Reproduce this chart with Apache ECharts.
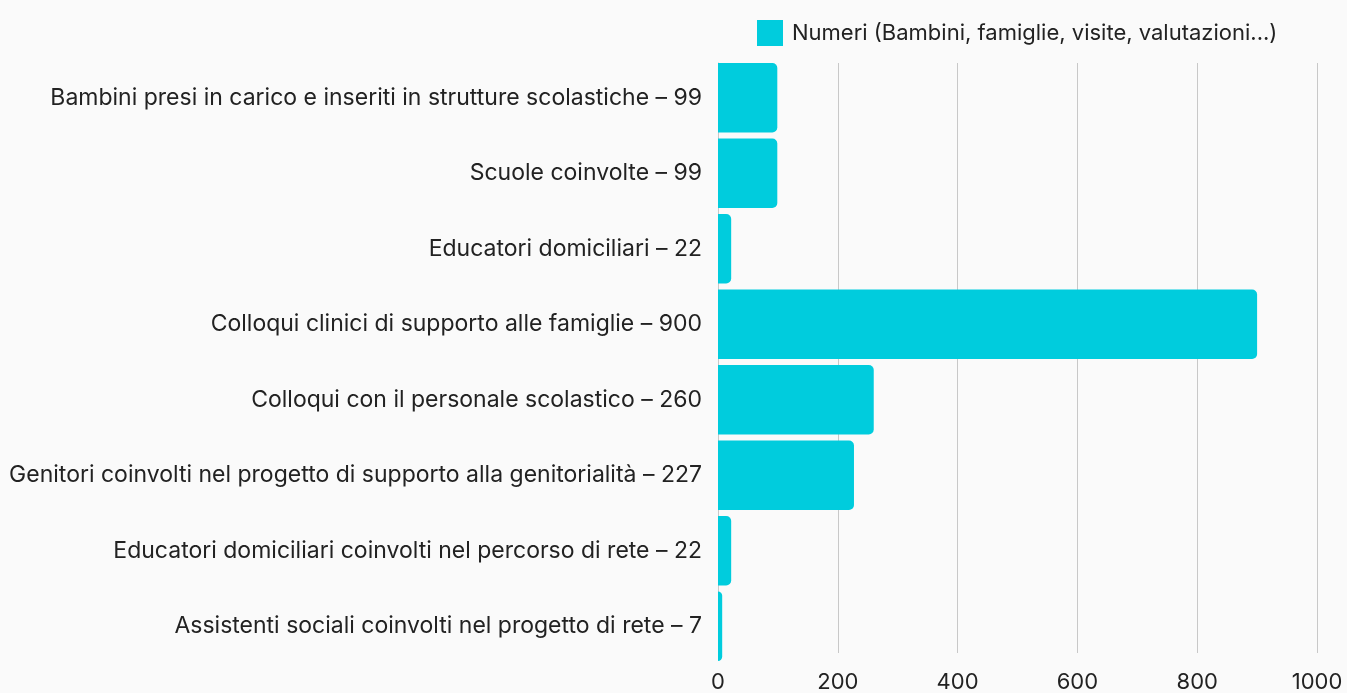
<!DOCTYPE html>
<html><head><meta charset="utf-8">
<script src="https://cdn.jsdelivr.net/npm/echarts@6/dist/echarts.min.js"></script>
<style>html,body{margin:0;padding:0;background:#fafafa}#c{width:1347px;height:693px}</style>
</head><body><div id="c"></div>
<script>
const categories = [
  "Bambini presi in carico e inseriti in strutture scolastiche – 99",
  "Scuole coinvolte – 99",
  "Educatori domiciliari – 22",
  "Colloqui clinici di supporto alle famiglie – 900",
  "Colloqui con il personale scolastico – 260",
  "Genitori coinvolti nel progetto di supporto alla genitorialità – 227",
  "Educatori domiciliari coinvolti nel percorso di rete – 22",
  "Assistenti sociali coinvolti nel progetto di rete – 7"
];
const values = [99, 99, 22, 900, 260, 227, 22, 7];
const seriesName = "Numeri (Bambini, famiglie, visite, valutazioni...)";
const xTicks = [0, 200, 400, 600, 800, 1000];

const FONT = 'Inter, sans-serif';
const BAR_W = 69.4;
const chart = echarts.init(document.getElementById('c'));
chart.setOption({
  backgroundColor: '#fafafa',
  textStyle: { fontFamily: FONT },
  legend: {
    data: [seriesName], left: 752, top: 15, itemWidth: 26, itemHeight: 26, itemGap: 10,
    icon: 'rect',
    textStyle: { fontSize: 22, color: '#222', fontFamily: FONT, padding: [0, 0, 0, 4] }
  },
  grid: [
    { left: 718, right: 30, top: 63, bottom: 32, containLabel: false },
    { left: 718, right: 30, top: 63 + BAR_W / 2, bottom: 32 + BAR_W / 2, containLabel: false }
  ],
  xAxis: [{
    gridIndex: 0, type: 'value', min: xTicks[0], max: xTicks[xTicks.length - 1], interval: 200,
    axisLine: { show: false }, axisTick: { show: false },
    splitLine: { lineStyle: { color: '#c8c8c8', width: 1 } },
    axisLabel: { fontSize: 22, color: '#222', margin: 18, fontFamily: FONT, formatter: v => String(v) }
  }, {
    gridIndex: 1, type: 'value', min: xTicks[0], max: xTicks[xTicks.length - 1], interval: 200,
    show: false
  }],
  yAxis: [{
    gridIndex: 0, type: 'category', data: categories, inverse: true,
    axisLine: { show: true, lineStyle: { color: '#c8c8c8' } }, axisTick: { show: false },
    axisLabel: { show: false }
  }, {
    gridIndex: 1, type: 'category', data: categories, inverse: true, boundaryGap: false,
    axisLine: { show: false }, axisTick: { show: false }, splitLine: { show: false },
    axisLabel: { fontSize: 23, color: '#222', margin: 16, fontFamily: FONT }
  }],
  series: [{
    name: seriesName, type: 'bar', data: values, xAxisIndex: 1, yAxisIndex: 1, barWidth: BAR_W,
    itemStyle: { color: '#00ccdd', borderRadius: [0, 5, 5, 0] }
  }]
});
</script></body></html>
